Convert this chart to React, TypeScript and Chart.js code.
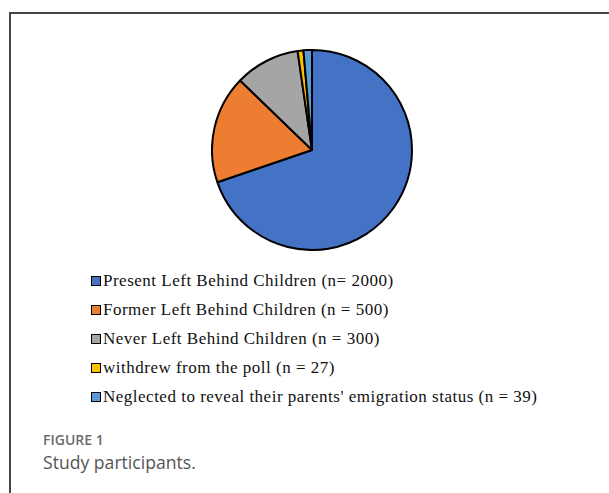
import React, { useEffect, useRef } from "react";
import { Chart, registerables } from "chart.js";

Chart.register(...registerables);

const categories = [
  "Present Left Behind Children",
  "Former Left Behind Children",
  "Never Left Behind Children",
  "withdrew from the poll",
  "Neglected to reveal their parents' emigration status",
];
const counts = [2000, 500, 300, 27, 39];
const legendLabels = [
  "Present Left Behind Children (n= 2000)",
  "Former Left Behind Children (n = 500)",
  "Never Left Behind Children (n = 300)",
  "withdrew from the poll (n = 27)",
  "Neglected to reveal their parents' emigration status (n = 39)",
];
const sliceColors = ["#4472C4", "#ED7D31", "#A5A5A5", "#FFC000", "#5B9BD5"];

export default function App() {
  const canvasRef = useRef<HTMLCanvasElement | null>(null);

  useEffect(() => {
    if (!canvasRef.current) return;
    const chart = new Chart(canvasRef.current, {
      type: "pie",
      data: {
        labels: categories,
        datasets: [
          {
            data: counts,
            backgroundColor: sliceColors,
            borderColor: "#000000",
            borderWidth: 2,
          },
        ],
      },
      options: {
        responsive: false,
        maintainAspectRatio: false,
        animation: false,
        layout: { padding: 0 },
        plugins: {
          legend: { display: false },
          tooltip: { enabled: false },
        },
      },
    });
    return () => chart.destroy();
  }, []);

  return (
    <div
      style={{
        position: "absolute",
        left: 0,
        top: 0,
        width: 609,
        height: 493,
        background: "#ffffff",
        overflow: "hidden",
      }}
    >
      <div
        style={{
          position: "absolute",
          left: 9,
          top: 12,
          width: 620,
          height: 500,
          borderTop: "2px solid #444",
          borderLeft: "2px solid #444",
          boxSizing: "border-box",
        }}
      />
      <canvas
        ref={canvasRef}
        width={202}
        height={202}
        style={{ position: "absolute", left: 211, top: 49, width: 202, height: 202 }}
      />
      {legendLabels.map((label, i) => (
        <div
          key={label}
          style={{
            position: "absolute",
            left: 91,
            top: 270 + i * 29,
            height: 22,
            display: "flex",
            alignItems: "center",
            fontFamily: "'Liberation Serif', 'Times New Roman', serif",
            fontSize: 17,
            letterSpacing: "0.5px",
            color: "#111",
            whiteSpace: "nowrap",
          }}
        >
          <span
            style={{
              display: "inline-block",
              width: 10,
              height: 10,
              boxSizing: "border-box",
              border: "1.5px solid #000",
              background: sliceColors[i],
              marginRight: 2,
            }}
          />
          <span>{label}</span>
        </div>
      ))}
      <div
        style={{
          position: "absolute",
          left: 43,
          top: 430,
          fontFamily: "'Open Sans', sans-serif",
          fontWeight: 600,
          fontSize: 14,
          color: "#6b6b6b",
          lineHeight: "19px",
        }}
      >
        FIGURE 1
      </div>
      <div
        style={{
          position: "absolute",
          left: 43,
          top: 451,
          fontFamily: "'Open Sans', sans-serif",
          fontSize: 17.6,
          color: "#555",
          lineHeight: "22px",
        }}
      >
        Study participants.
      </div>
    </div>
  );
}
